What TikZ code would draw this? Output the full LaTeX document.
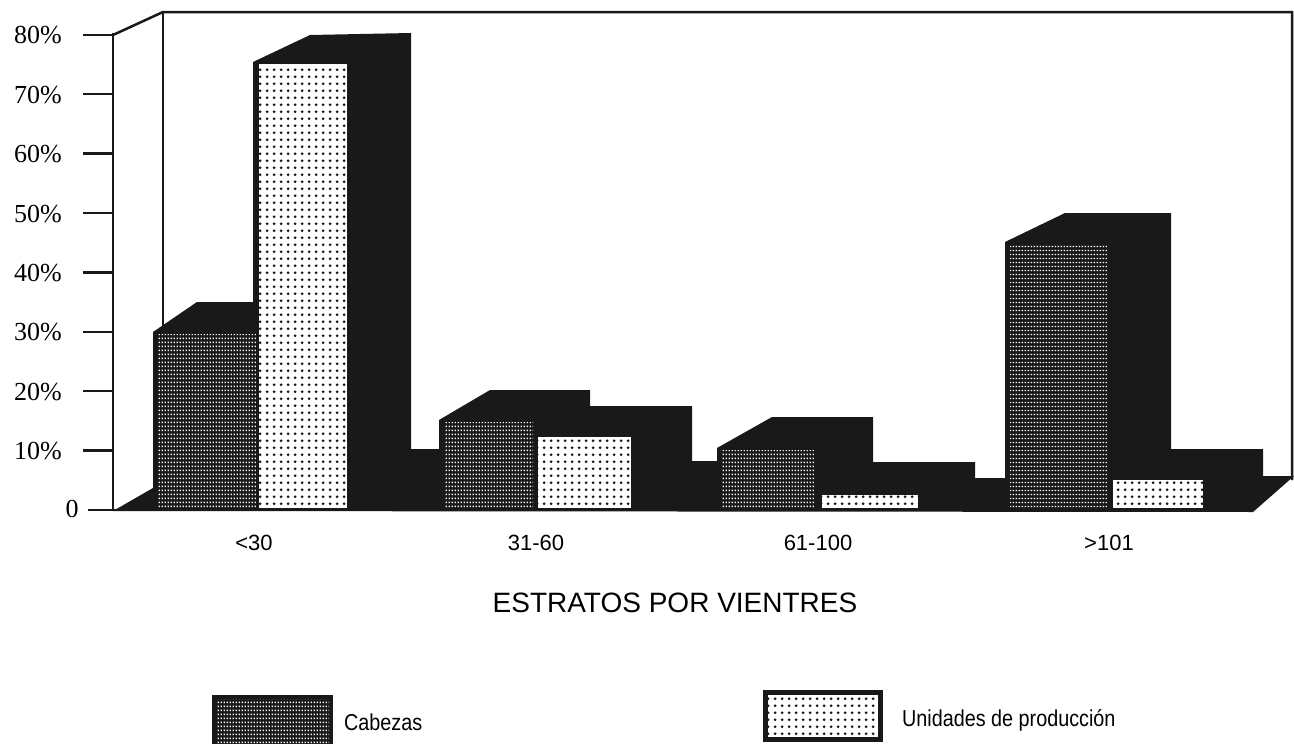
\documentclass[tikz,border=0pt]{standalone}
\usepackage{fontspec}
\setmainfont{Liberation Serif}
\newfontfamily\arialf{Liberation Sans}
\newfontfamily\arialn[FakeStretch=0.86]{Liberation Sans}
\usetikzlibrary{patterns}
\definecolor{ink}{gray}{0.1}
\pgfdeclarepatternformonly{cabgrid}{\pgfqpoint{0pt}{0pt}}{\pgfqpoint{3.3pt}{4pt}}{\pgfqpoint{3.3pt}{4pt}}{\pgfpathrectangle{\pgfqpoint{0.9pt}{1.2pt}}{\pgfqpoint{1.5pt}{1.6pt}}\pgfusepath{fill}}
\pgfdeclarepatternformonly{unidots}{\pgfqpoint{0pt}{0pt}}{\pgfqpoint{6.6pt}{7.2pt}}{\pgfqpoint{6.6pt}{7.2pt}}{\pgfpathcircle{\pgfqpoint{3.3pt}{3.6pt}}{1.6pt}\pgfusepath{fill}}
\tikzset{
  frame/.style={line width=2.5pt, draw=ink},
  ylab/.style={font=\fontsize{26}{30}\selectfont, anchor=base east, inner sep=0pt},
  catlab/.style={font=\arialf\fontsize{22}{26}\selectfont, anchor=base, inner sep=0pt},
  titlab/.style={font=\arialf\fontsize{28}{32}\selectfont, anchor=base, inner sep=0pt},
  leglab/.style={font=\arialn\fontsize{23}{27}\selectfont, anchor=base west, inner sep=0pt},
  cabface/.style={pattern=cabgrid, pattern color=white},
  uniface/.style={pattern=unidots, pattern color=ink},
}
\begin{document}
\begin{tikzpicture}[x=1pt,y=-1pt]
\useasboundingbox (0,0) rectangle (1294,744);
% back wall and frame
\draw[frame] (163,12) -- (163,490);
\draw[frame, line join=miter] (113,35) -- (163,12) -- (1292,12) -- (1292,480);
\draw[frame] (113,33) -- (113,511);
% black 3D silhouette
\fill[ink] (113,511) -- (153,488) -- (153,332) -- (197,302) -- (253,302) -- (253,62)
  -- (310,35) -- (411,33) -- (411,449) -- (439,449) -- (439,420) -- (490,390)
  -- (590,390) -- (590,406) -- (692,406) -- (692,461) -- (717,461) -- (717,448)
  -- (772,417) -- (873,417) -- (873,462) -- (975,462) -- (975,478) -- (1005,478)
  -- (1005,242) -- (1065,213) -- (1171,213) -- (1171,449) -- (1263,449)
  -- (1263,476) -- (1294,476) -- (1253,512) -- cycle;
\draw[frame] (88,510) -- (1253,510);
% front faces: Cabezas
\fill[cabface] (158,334) rectangle (256,508);
\fill[cabface] (444,422) rectangle (533,508);
\fill[cabface] (722,450) rectangle (814,508);
\fill[cabface] (1010,244) rectangle (1107,508);
% front faces: Unidades de produccion
\foreach \xa/\xb/\yt in {259/347/64, 538/631/437, 822/918/495, 1113/1203/480}{
  \fill[white] (\xa,\yt) rectangle (\xb,508);
  \fill[uniface] (\xa,\yt) rectangle (\xb,508);
}
% axis ticks and labels
\draw[frame] (88,510) -- (113,510);
\node[ylab, anchor=base] (y0) at (72,517) {0};
\foreach \k in {1,...,8}{
  \pgfmathsetmacro\yy{510-59.4*\k}
  \draw[frame] (83,\yy) -- (113,\yy);
  \node[ylab] (y\k) at (62,\yy+9) {\k0\%};
}
% category labels
\node[catlab] (c1) at (254,550) {<30};
\node[catlab] (c2) at (536,550) {31-60};
\node[catlab] (c3) at (818,550) {61-100};
\node[catlab] (c4) at (1109,550) {>101};
\node[titlab] (xt) at (675,612) {ESTRATOS POR VIENTRES};
% legend
\fill[ink] (212,695) rectangle (333,744);
\fill[cabface] (216,699) rectangle (329,744);
\node[leglab] (lc) at (344,730) {Cabezas};
\draw[ink, line width=5pt, fill=white] (765.5,692.5) rectangle (880.5,739.5);
\fill[uniface] (768,695) rectangle (878,737);
\node[leglab] (lu) at (902,726) {Unidades de producción};
\end{tikzpicture}
\end{document}
